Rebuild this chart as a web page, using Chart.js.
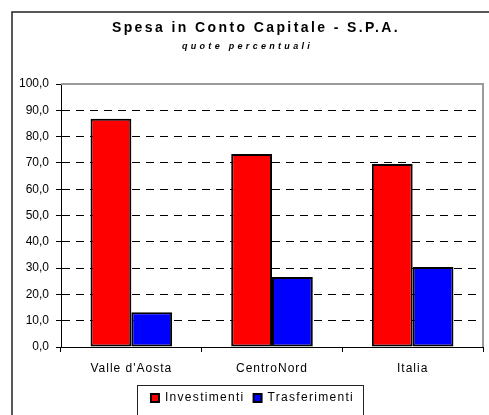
<!DOCTYPE html>
<html><head><meta charset="utf-8">
<script src="https://cdn.jsdelivr.net/npm/chart.js@4/dist/chart.umd.min.js"></script>
<style>html,body{margin:0;padding:0;background:#fff}#wrap{width:489px;height:415px}</style>
</head><body><div id="wrap"><canvas id="c" width="489" height="415"></canvas></div>
<script>
const categories = ["Valle d'Aosta", "CentroNord", "Italia"];
const investimenti = [86.8, 73.4, 69.6];
const trasferimenti = [13.2, 26.6, 30.4];
const seriesNames = ["Investimenti", "Trasferimenti"];
const seriesColors = ["#FF0000", "#0000FF"];
const titleText = "Spesa in Conto Capitale - S.P.A.";
const subtitleText = "quote percentuali";
const yMin = 0, yMax = 100, yStep = 10;

const FONT = "'Liberation Sans', Arial, sans-serif";
const LEGEND_DX = 5;

function withSpacing(obj, method, px, dx) {
  const orig = obj[method];
  obj[method] = function (...args) {
    const ctx = this.ctx;
    ctx.save();
    ctx.letterSpacing = px + 'px';
    if (dx) ctx.translate(dx, 0);
    try { return orig.apply(this, args); } finally { ctx.restore(); }
  };
}

const decor = {
  id: 'decor',
  afterInit(chart) {
    if (chart.titleBlock) withSpacing(chart.titleBlock, 'draw', 2.4, 8.5);
    chart.boxes.forEach(b => {
      if (b !== chart.titleBlock && b.options && b.options.text === subtitleText) {
        withSpacing(b, 'draw', 3.3, 0);
      }
    });
    if (chart.legend) {
      withSpacing(chart.legend, 'fit', 1.3, 0);
      withSpacing(chart.legend, 'draw', 1.3, LEGEND_DX);
    }
  },
  afterUpdate(chart) {
    const x = chart.scales.x;
    if (x && !x._spaced) { withSpacing(x, 'drawLabels', 1, 0); x._spaced = true; }
  },
  beforeDatasetsDraw(chart) {
    const {ctx, chartArea: a} = chart;
    ctx.save();
    ctx.strokeStyle = '#9a9a9a';
    ctx.lineWidth = 2;
    ctx.beginPath();
    ctx.moveTo(a.left, a.top);
    ctx.lineTo(a.right, a.top);
    ctx.lineTo(a.right, a.bottom);
    ctx.stroke();
    ctx.restore();
  },
  afterDraw(chart) {
    const ctx = chart.ctx;
    ctx.save();
    ctx.strokeStyle = '#222';
    ctx.lineWidth = 1.5;
    ctx.strokeRect(12, 12, 600, 600);
    const hb = chart.legend.legendHitBoxes;
    if (hb && hb.length) {
      const l = hb[0].left - 14 + LEGEND_DX;
      const last = hb[hb.length - 1];
      const r = last.left + last.width + 9 + LEGEND_DX;
      const t = hb[0].top - 7;
      ctx.lineWidth = 1;
      ctx.strokeStyle = '#222';
      ctx.strokeRect(Math.round(l) + 0.5, Math.round(t) + 0.5, Math.round(r - l), 100);
    }
    ctx.restore();
  }
};

new Chart(document.getElementById('c'), {
  type: 'bar',
  data: {
    labels: categories,
    datasets: [
      { label: seriesNames[0], data: investimenti, backgroundColor: seriesColors[0], borderColor: '#000', borderWidth: 2, borderSkipped: false },
      { label: seriesNames[1], data: trasferimenti, backgroundColor: seriesColors[1], borderColor: '#000', borderWidth: 2, borderSkipped: false }
    ]
  },
  options: {
    responsive: false,
    animation: false,
    events: [],
    layout: { padding: { top: 13, left: 12, right: 6, bottom: 1 } },
    datasets: { bar: { categoryPercentage: 0.58, barPercentage: 1.0 } },
    scales: {
      x: {
        grid: { drawOnChartArea: false, drawTicks: true, tickLength: 5, color: '#000', tickColor: '#000' },
        border: { color: '#000', width: 1 },
        ticks: { color: '#000', font: { family: FONT, size: 12 }, padding: 9 },
        afterFit(s) { s.height = 36; }
      },
      y: {
        min: yMin, max: yMax,
        grid: {
          color: c => (c.tick && (c.tick.value === yMin || c.tick.value === yMax)) ? 'rgba(0,0,0,0)' : '#000',
          tickColor: '#000', tickLength: 5, tickBorderDash: [1, 0], lineWidth: 1, drawTicks: true
        },
        border: { color: '#000', width: 1, dash: [8, 6] },
        ticks: {
          stepSize: yStep, color: '#000', font: { family: FONT, size: 12 }, padding: 7,
          callback: v => v.toFixed(1).replace('.', ',')
        },
        afterFit(s) { s.width = 49; }
      }
    },
    plugins: {
      tooltip: { enabled: false },
      title: {
        display: true, text: titleText, color: '#000',
        font: { family: FONT, size: 14, weight: 'bold' },
        padding: { top: 7, bottom: 3 }
      },
      subtitle: {
        display: true, text: subtitleText, color: '#000',
        font: { family: FONT, size: 9, weight: 'bold', style: 'italic' },
        padding: { top: 1, bottom: 32.4 }
      },
      legend: {
        position: 'bottom',
        labels: {
          color: '#000', font: { family: FONT, size: 12 },
          boxWidth: 8, boxHeight: 8, padding: 9, useBorderRadius: false
        }
      }
    }
  },
  plugins: [decor]
});
</script></body></html>
